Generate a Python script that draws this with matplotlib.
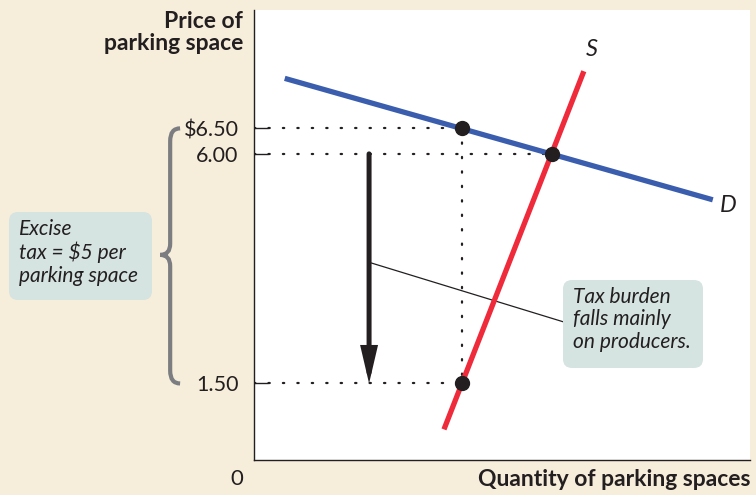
import numpy as np
import matplotlib
matplotlib.use('Agg')
import matplotlib.pyplot as plt
from matplotlib.patches import FancyBboxPatch, PathPatch
from matplotlib.path import Path
from matplotlib.transforms import blended_transform_factory

plt.rcParams['font.family'] = ['Lato', 'DejaVu Sans']

# 数据 (价格刻度, 需求/供给曲线端点, 三个关键点)
price_ticks = [1.50, 6.00, 6.50]
price_labels = ['1.50', '6.00', '$6.50']
demand_q = [0.62, 9.25]
demand_p = [7.48, 5.10]
supply_q = [3.83, 6.65]
supply_p = [0.60, 7.62]
point_q = [6.00, 4.19, 4.19]
point_p = [6.00, 6.50, 1.50]
arrow_q = 2.32
tax_top, tax_bottom = 6.00, 1.50

BG = '#f6eddb'
BLUE = '#3a5dae'
RED = '#ee2a3b'
INK = '#231f20'
BOX = '#d5e3e1'
GRAY = '#7b7d80'

fig = plt.figure(figsize=(7.56, 4.95), dpi=100, facecolor=BG)
ax = fig.add_axes([254 / 756, 35 / 495, 496 / 756, 450 / 495])
ax.set_facecolor('white')
ax.set_xlim(0, 10)
ax.set_ylim(0, 8.82)

for s in ['top', 'right']:
    ax.spines[s].set_visible(False)
for s in ['left', 'bottom']:
    ax.spines[s].set_color(INK)
    ax.spines[s].set_linewidth(1.0)

ax.set_xticks([])
ax.set_yticks(price_ticks)
ax.set_yticklabels(price_labels, fontsize=15.5, color=INK)
ax.tick_params(axis='y', direction='in', length=10, width=1, color=INK, pad=11)

# 虚线
dot = dict(color=INK, lw=1.6, linestyle=(0, (0.6, 5.9)), dash_capstyle='round', zorder=2)
ax.plot([0, point_q[1]], [point_p[1], point_p[1]], **dot)
ax.plot([0, point_q[0]], [point_p[0], point_p[0]], **dot)
ax.plot([0, point_q[2]], [point_p[2], point_p[2]], **dot)
ax.plot([point_q[1], point_q[2]], [point_p[1], point_p[2]], **dot)

# 连线 (箭头 -> 文字框)
ax.plot([arrow_q + 0.05, 6.23], [3.86, 2.71], color=INK, lw=0.9, zorder=3)

# 曲线
ax.plot(demand_q, demand_p, color=BLUE, lw=3.8, solid_capstyle='butt', zorder=4)
ax.plot(supply_q, supply_p, color=RED, lw=3.8, solid_capstyle='butt', zorder=4)
ax.plot(point_q, point_p, 'o', color=INK, ms=10, zorder=5)

ax.text(6.82, 8.05, 'S', fontsize=17, style='italic', color=INK, ha='center', va='center')
ax.text(9.57, 4.98, 'D', fontsize=17, style='italic', color=INK, ha='center', va='center')

# 税额箭头
ax.annotate('', xy=(arrow_q, tax_bottom), xytext=(arrow_q, tax_top),
            arrowprops=dict(arrowstyle='-|>,head_length=1.8,head_width=0.42',
                            lw=3.6, color=INK, shrinkA=0, shrinkB=0,
                            mutation_scale=10, joinstyle='miter'), zorder=4)

# 花括号
tr = blended_transform_factory(ax.transAxes, ax.transData)
xv, xe, xt, ym = -0.169, -0.149, -0.189, 4.02
verts = [(xe, 6.5), (xv, 6.5), (xv, 6.25),
         (xv, ym + 0.22), (xv, ym), (xt, ym),
         (xv, ym), (xv, ym - 0.22),
         (xv, 1.75), (xv, 1.5), (xe, 1.5)]
codes = [Path.MOVETO, Path.CURVE3, Path.CURVE3,
         Path.LINETO, Path.CURVE3, Path.CURVE3,
         Path.CURVE3, Path.CURVE3,
         Path.LINETO, Path.CURVE3, Path.CURVE3]
ax.add_patch(PathPatch(Path(verts, codes), transform=tr, fc='none', ec=GRAY,
                       lw=3.0, capstyle='butt', clip_on=False))

# 轴标题
fig.text(243 / 756, 1 - 11 / 495, 'Price of\nparking space', fontsize=16.5, fontweight='bold',
         color=INK, ha='right', va='top', linespacing=1.08)
fig.text(750 / 756, 1 - 479 / 495, 'Quantity of parking spaces', fontsize=16.5,
         fontweight='bold', color=INK, ha='right', va='center')
fig.text(237 / 756, 1 - 479 / 495, '0', fontsize=16, color=INK, ha='center', va='center')

# 说明框
def note(x0, y0, x1, y1, txt):
    fig.patches.append(FancyBboxPatch((x0 / 756, 1 - y1 / 495), (x1 - x0) / 756, (y1 - y0) / 495,
                                      boxstyle='round,pad=0,rounding_size=0.012',
                                      transform=fig.transFigure, fc=BOX, ec='none',
                                      mutation_aspect=756 / 495))
    fig.text((x0 + 10) / 756, 1 - (y0 + 7) / 495, txt, fontsize=15, style='italic',
             color=INK, ha='left', va='top', linespacing=1.15)

note(9, 212, 152, 300, 'Excise\ntax = $5 per\nparking space')
note(563, 280, 703, 368, 'Tax burden\nfalls mainly\non producers.')

fig.savefig('out.png', dpi=100, facecolor=BG)
